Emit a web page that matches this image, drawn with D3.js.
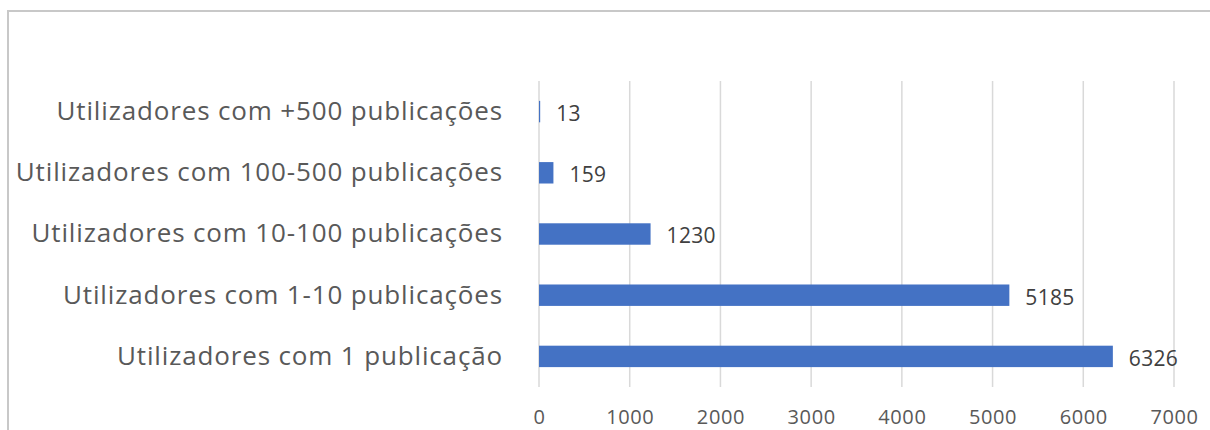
<!DOCTYPE html>
<html>
<head>
<meta charset="utf-8">
<script src="https://cdn.jsdelivr.net/npm/d3@7"></script>
<style>
  body { margin: 0; background: #fff; }
  svg { display: block; font-family: "Open Sans", "Noto Sans", sans-serif; }
</style>
</head>
<body>
<div id="chart"></div>
<script>
// data
const categories = [
  "Utilizadores com +500 publicações",
  "Utilizadores com 100-500 publicações",
  "Utilizadores com 10-100 publicações",
  "Utilizadores com 1-10 publicações",
  "Utilizadores com 1 publicação"
];
const values = [13, 159, 1230, 5185, 6326];
const xTicks = [0, 1000, 2000, 3000, 4000, 5000, 6000, 7000];

const width = 1210;
const height = 430;
const plot = { left: 539, right: 1174, top: 81, bottom: 387 };

const svg = d3.select("#chart").append("svg")
    .attr("width", width)
    .attr("height", height);

// frame (top and left edges visible)
svg.append("path")
    .attr("d", "M8," + height + "V11H" + width)
    .attr("fill", "none")
    .attr("stroke", "#c8c8c8")
    .attr("stroke-width", 2);

//----------------------------SCALES----------------------------//
const xScale = d3.scaleLinear()
    .domain([0, 7000])
    .range([plot.left, plot.right]);

const yScale = d3.scaleBand()
    .domain(categories)
    .range([plot.top, plot.bottom])
    .paddingInner(0.65)
    .paddingOuter(0.325);

//-----------------------------GRID-----------------------------//
svg.append("g")
    .selectAll("line")
    .data(xTicks)
    .enter()
    .append("line")
    .attr("x1", d => xScale(d))
    .attr("x2", d => xScale(d))
    .attr("y1", plot.top)
    .attr("y2", plot.bottom)
    .attr("stroke", "#d9d9d9")
    .attr("stroke-width", 1.5);

//-----------------------------AXES-----------------------------//
const xaxis = d3.axisBottom(xScale)
    .tickValues(xTicks)
    .tickSize(0)
    .tickPadding(0)
    .tickFormat(d3.format("d"));

const gx = svg.append("g")
    .attr("transform", "translate(0," + (plot.bottom + 30) + ")")
    .call(xaxis);
gx.select(".domain").remove();
gx.selectAll("text")
    .attr("dy", "0.35em")
    .attr("y", 0)
    .attr("font-size", 20)
    .attr("letter-spacing", 0.6)
    .attr("font-family", "\"Open Sans\", sans-serif")
    .attr("fill", "#595959");

const yaxis = d3.axisLeft(yScale)
    .tickSize(0)
    .tickPadding(36);

const gy = svg.append("g")
    .attr("transform", "translate(" + plot.left + ",0)")
    .call(yaxis);
gy.select(".domain").remove();
gy.selectAll("text")
    .attr("font-size", 26)
    .attr("letter-spacing", 0.85)
    .attr("font-family", "\"Open Sans\", sans-serif")
    .attr("fill", "#595959");

//----------------------------BARS------------------------------//
const rows = categories.map((c, i) => ({ cat: c, val: values[i] }));

svg.append("g")
    .selectAll("rect")
    .data(rows)
    .enter()
    .append("rect")
    .attr("x", xScale(0))
    .attr("y", d => yScale(d.cat))
    .attr("width", d => xScale(d.val) - xScale(0))
    .attr("height", yScale.bandwidth())
    .attr("fill", "#4472c4");

svg.append("g")
    .selectAll("text")
    .data(rows)
    .enter()
    .append("text")
    .attr("x", d => xScale(d.val) + 16)
    .attr("y", d => yScale(d.cat) + yScale.bandwidth() / 2 + 2)
    .attr("dy", "0.35em")
    .attr("font-size", 21)
    .attr("letter-spacing", 0.3)
    .attr("fill", "#404040")
    .text(d => d.val);
</script>
</body>
</html>
